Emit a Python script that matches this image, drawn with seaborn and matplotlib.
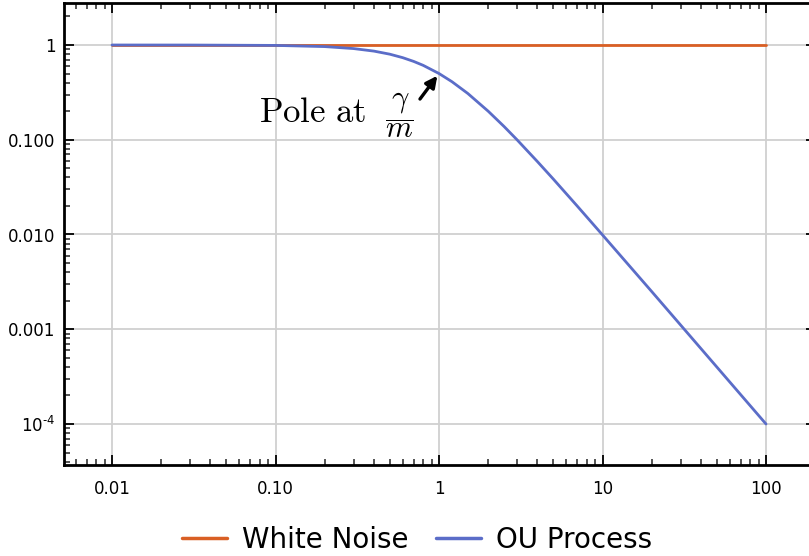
import numpy as np
import pandas as pd
import matplotlib
matplotlib.use("Agg")
import matplotlib.pyplot as plt
import seaborn as sns

# Frequency samples and spectral densities
freq = [0.01, 0.03, 0.1, 0.2, 0.3, 0.4, 0.5, 0.6, 0.7, 0.8, 1.0, 1.2, 1.5,
        2.0, 2.5, 3.0, 4.0, 5.0, 7.0, 10.0, 20.0, 50.0, 100.0]
white_noise = [1.0] * len(freq)
ou_process = [1.0, 0.999, 0.990, 0.962, 0.917, 0.862, 0.800, 0.735, 0.671,
              0.610, 0.500, 0.410, 0.308, 0.200, 0.138, 0.100, 0.0588,
              0.0385, 0.0200, 0.0099, 0.0025, 0.0004, 0.0001]

x_ticks = [0.01, 0.1, 1, 10, 100]
x_labels = ["0.01", "0.10", "1", "10", "100"]
y_ticks = [1, 0.1, 0.01, 0.001, 1e-4]
y_labels = ["1", "0.100", "0.010", "0.001", r"10$^{\text{-}4}$"]

sns.set_theme(style="white")
plt.rcParams["font.family"] = ["DejaVu Sans"]
plt.rcParams["mathtext.fontset"] = "dejavusans"
plt.rcParams["text.color"] = "black"

df = pd.DataFrame({
    "freq": freq * 2,
    "S": white_noise + ou_process,
    "series": ["White Noise"] * len(freq) + ["OU Process"] * len(freq),
})

fig = plt.figure(figsize=(8.09, 5.56), dpi=100)
ax = fig.add_axes([64 / 809, 91 / 556, 752 / 809, 462 / 556])

palette = {"White Noise": "#D95F24", "OU Process": "#5B6DC8"}
sns.lineplot(data=df, x="freq", y="S", hue="series", palette=palette,
             linewidth=2.0, ax=ax, legend=False, sort=False, estimator=None)

ax.set_xscale("log")
ax.set_yscale("log")
ax.set_xlim(10 ** (-2 - 48 / 163.5), 10 ** (2 + 50 / 163.5))
ax.set_ylim(10 ** (-4 - 41 / 94.75), 10 ** (42 / 94.75))

ax.set_xticks(x_ticks)
ax.set_xticklabels(x_labels)
ax.set_yticks(y_ticks)
ax.set_yticklabels(y_labels)
ax.set_xlabel("")
ax.set_ylabel("")

ax.grid(True, which="major", color="#d0d0d0", linewidth=1.3)
ax.tick_params(which="major", direction="in", length=7, width=1.3,
               top=True, right=True, bottom=True, left=True,
               labelsize=12, colors="black")
ax.tick_params(axis="x", which="major", pad=11)
ax.tick_params(axis="y", which="major", pad=6)
ax.tick_params(which="minor", direction="in", length=4, width=1.1,
               top=True, right=True, bottom=True, left=True)
ax.xaxis.set_minor_locator(matplotlib.ticker.LogLocator(base=10, subs=np.arange(2, 10)))
ax.yaxis.set_minor_locator(matplotlib.ticker.LogLocator(base=10, subs=np.arange(2, 10)))
ax.xaxis.set_minor_formatter(matplotlib.ticker.NullFormatter())
ax.yaxis.set_minor_formatter(matplotlib.ticker.NullFormatter())
for sp in ax.spines.values():
    sp.set_color("black")
    sp.set_linewidth(2.0)

# Label and arrow marking the pole of the OU spectrum
pole_x = freq[ou_process.index(0.500)]
pole_y = 0.500
ax.text(0.3576, 0.1539, r"$\mathrm{Pole\ at}$",
        fontsize=25, ha="right", va="baseline", math_fontfamily="cm",
        color="black")
ax.text(0.569, 0.1825, r"$\dfrac{\gamma}{m}$",
        fontsize=22, ha="center", va="center", math_fontfamily="cm",
        color="black")
ax.annotate("", xy=(pole_x, pole_y), xycoords="data",
            xytext=(0.765, 0.269), textcoords="data",
            arrowprops=dict(arrowstyle="-|>", color="black", lw=2.4,
                            shrinkA=0, shrinkB=2, mutation_scale=17))

handles = [matplotlib.lines.Line2D([], [], color=palette[k], linewidth=2.5)
           for k in ["White Noise", "OU Process"]]
leg = fig.legend(handles, ["White Noise", "OU Process"], loc="center",
                 bbox_to_anchor=(417 / 809, 16 / 556), ncol=2, frameon=False,
                 fontsize=20, handlelength=1.62, handletextpad=0.54,
                 columnspacing=1.0)
for t in leg.get_texts():
    t.set_color("black")

fig.savefig("out.png", dpi=100)
